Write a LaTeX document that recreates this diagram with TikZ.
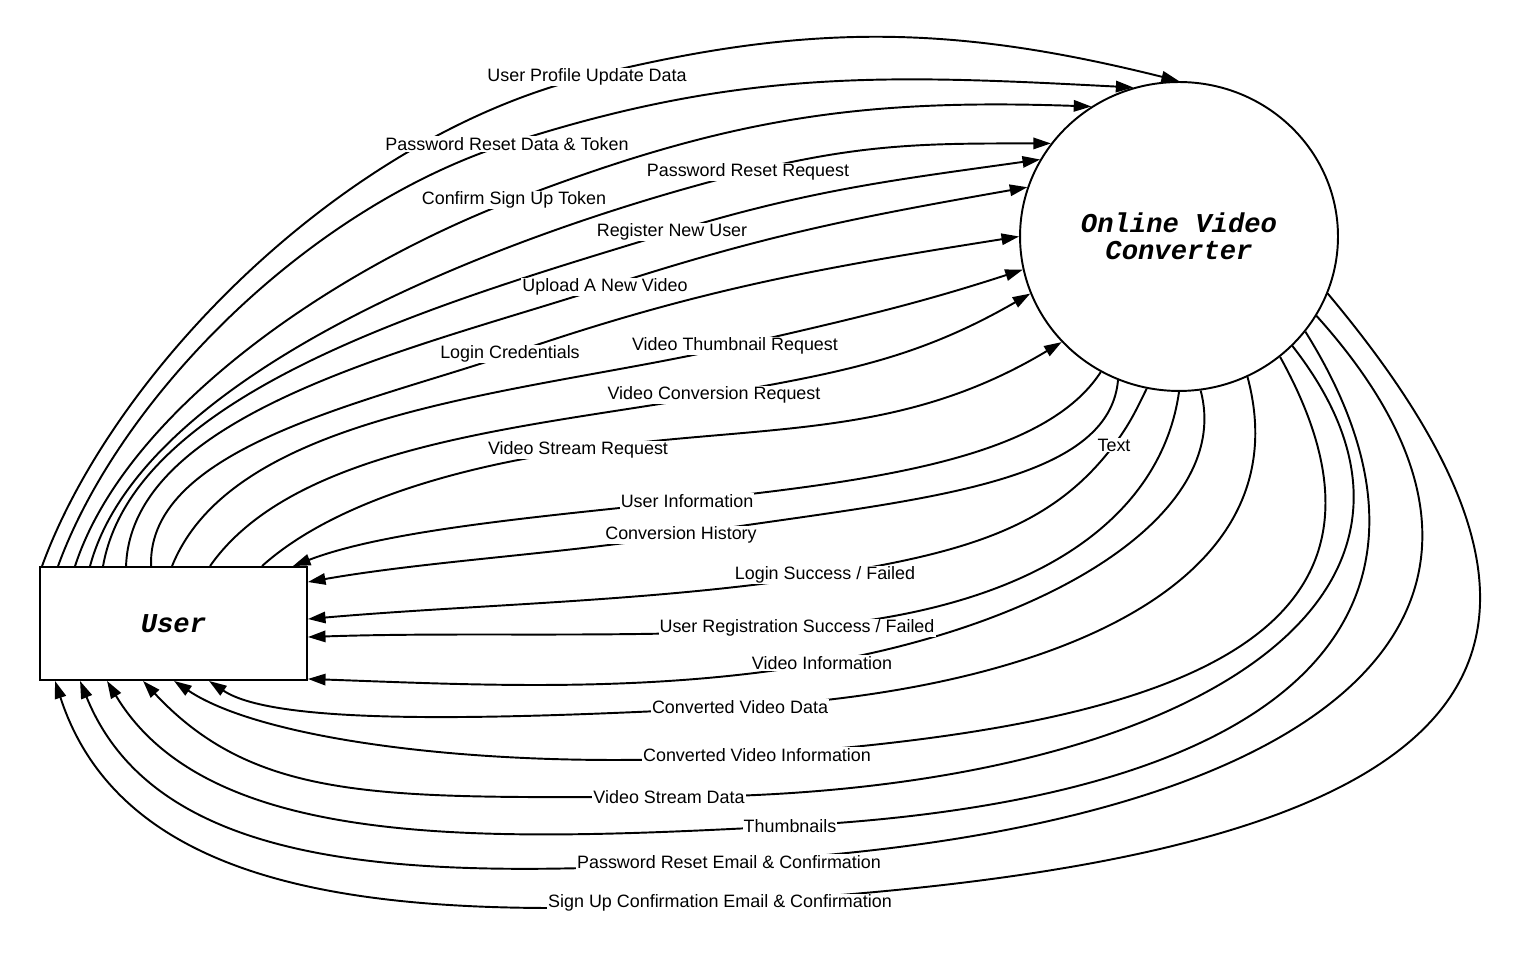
\documentclass[tikz,border=0pt]{standalone}
\usepackage{fontspec}
\setmainfont{Liberation Sans}
\newfontfamily\dfdmono{Liberation Mono}
\usetikzlibrary{shapes.geometric, arrows.meta, calc, backgrounds}

\begin{document}
\begin{tikzpicture}[
    x=0.02cm, y=0.02cm,
    font=\fontsize{10.2}{12}\selectfont,
    entity/.style={rectangle, draw, line width=1.1pt, minimum width=5.34cm, minimum height=2.26cm, font=\dfdmono\bfseries\itshape\fontsize{15.5}{15.4}\selectfont},
    process/.style={ellipse, draw, line width=1.1pt, inner sep=0pt, minimum width=6.36cm, minimum height=6.18cm, align=center, font=\dfdmono\bfseries\itshape\fontsize{15.5}{15.4}\selectfont},
    flowlabel/.style={fill=white, inner sep=0.6pt},
    flow/.style={-{Triangle[length=10pt, width=6.5pt]}, line width=1.1pt}
]
\useasboundingbox (0,0) rectangle (1530,956);

% Nodes
\node[entity] (user) at (173.5,332.5) {User};
\node[process] (conv) at (1179,719.5) {Online Video\\Converter};

% Labels: user to converter
\node[flowlabel] (lbl_profile) at (587,879) {User Profile Update Data};
\node[flowlabel] (lbl_pwdata) at (507,812) {Password Reset Data \& Token};
\node[flowlabel] (lbl_confirm) at (514,756) {Confirm Sign Up Token};
\node[flowlabel] (lbl_pwreq) at (748,784) {Password Reset Request};
\node[flowlabel] (lbl_register) at (672,724) {Register New User};
\node[flowlabel] (lbl_upload) at (605,669) {Upload A New Video};
\node[flowlabel] (lbl_login) at (510,602) {Login Credentials};
\node[flowlabel] (lbl_thumbreq) at (735,610) {Video Thumbnail Request};
\node[flowlabel] (lbl_convreq) at (714,561) {Video Conversion Request};
\node[flowlabel] (lbl_streamreq) at (578,506) {Video Stream Request};

% Labels: converter to user
\node[flowlabel] (lbl_userinfo) at (687,455) {User Information};
\node[flowlabel] (lbl_history) at (681,421) {Conversion History};
\node[flowlabel] (lbl_text) at (1114,511) {Text};
\node[flowlabel] (lbl_login_ok) at (825,381) {Login Success / Failed};
\node[flowlabel] (lbl_reg_ok) at (797,328) {User Registration Success / Failed};
\node[flowlabel] (lbl_vidinfo) at (822,293) {Video Information};
\node[flowlabel] (lbl_convdata) at (740,249) {Converted Video Data};
\node[flowlabel] (lbl_convinfo) at (757,201) {Converted Video Information};
\node[flowlabel] (lbl_streamdata) at (669,159) {Video Stream Data};
\node[flowlabel] (lbl_thumbs) at (790,130) {Thumbnails};
\node[flowlabel] (lbl_pwemail) at (729,94) {Password Reset Email \& Confirmation};
\node[flowlabel] (lbl_signup) at (720,53) {Sign Up Confirmation Email \& Confirmation};

% Arrows
\begin{scope}[on background layer]
% user -> converter
\draw[flow] ($(user.north west)+(3,0)$) .. controls +(70:205) and +(194:255) .. (lbl_profile.center) .. controls +(14:230) and +(166:230) .. (conv.90);
\draw[flow] ($(user.north west)+(19,0)$) .. controls +(70:175) and +(198:215) .. (lbl_pwdata.center) .. controls +(18:245) and +(177:245) .. (conv.107);
\draw[flow] ($(user.north west)+(36,0)$) .. controls +(72:160) and +(201:200) .. (lbl_confirm.center) .. controls +(21:230) and +(178:230) .. (conv.124);
\draw[flow] ($(user.north west)+(51,0)$) .. controls +(75:200) and +(194:250) .. (lbl_pwreq.center) .. controls +(14:120) and +(180:120) .. (conv.144);
\draw[flow] ($(user.north west)+(64,0)$) .. controls +(80:180) and +(197:230) .. (lbl_register.center) .. controls +(17:145) and +(188:145) .. (conv.151);
\draw[flow] ($(user.north west)+(87,0)$) .. controls +(88:155) and +(198:195) .. (lbl_upload.center) .. controls +(18:170) and +(190:170) .. (conv.162);
\draw[flow] ($(user.north west)+(112,0)$) .. controls +(92:120) and +(199:145) .. (lbl_login.center) .. controls +(19:200) and +(189:200) .. (conv.180);
\draw[flow] ($(user.north west)+(133,0)$) .. controls +(68:170) and +(193:210) .. (lbl_thumbreq.center) .. controls +(13:115) and +(198:115) .. (conv.192);
\draw[flow] ($(user.north west)+(171,0)$) .. controls +(55:150) and +(190:185) .. (lbl_convreq.center) .. controls +(10:130) and +(210:130) .. (conv.201);
\draw[flow] ($(user.north west)+(223,0)$) .. controls +(42:95) and +(188:120) .. (lbl_streamreq.center) .. controls +(8:190) and +(211:190) .. (conv.222);
% converter -> user
\draw[flow] (conv.240) .. controls +(237:100) and +(6:200) .. (lbl_userinfo.center) .. controls +(186:150) and +(21:100) .. ($(user.north east)+(-15,0)$);
\draw[flow] (conv.247) .. controls +(265:110) and +(9:220) .. (lbl_history.center) .. controls +(189:120) and +(10:120) .. ($(user.north east)+(0,-16)$);
\draw[flow] (conv.258) .. controls +(244:25) and +(53:25) .. (lbl_text.center) .. controls +(233:100) and +(9:150) .. (lbl_login_ok.center) .. controls +(189:170) and +(5:170) .. ($(user.north east)+(0,-53)$);
\draw[flow] (conv.270) .. controls +(262:120) and +(4:250) .. (lbl_reg_ok.center) .. controls +(184:160) and +(2:160) .. ($(user.north east)+(0,-71)$);
\draw[flow] (conv.278) .. controls +(285:120) and +(10:250) .. (lbl_vidinfo.center) .. controls +(190:180) and +(-2:160) .. ($(user.south east)+(0,2)$);
\draw[flow] (conv.296) .. controls +(285:220) and +(3:300) .. (lbl_convdata.center) .. controls +(183:250) and +(-34:80) .. ($(user.south west)+(170,0)$);
\draw[flow] (conv.310) .. controls +(299:330) and +(4:400) .. (lbl_convinfo.center) .. controls +(184:250) and +(-34:110) .. ($(user.south west)+(135,0)$);
\draw[flow] (conv.316) .. controls +(308:330) and +(0:500) .. (lbl_streamdata.center) .. controls +(180:280) and +(-47:170) .. ($(user.south west)+(104,0)$);
\draw[flow] (conv.323) .. controls +(302:300) and +(3:550) .. (lbl_thumbs.center) .. controls +(183:300) and +(-59:200) .. ($(user.south west)+(68,0)$);
\draw[flow] (conv.330) .. controls +(312:400) and +(3:600) .. (lbl_pwemail.center) .. controls +(183:280) and +(-68:220) .. ($(user.south west)+(41,0)$);
\draw[flow] (conv.339) .. controls +(310:500) and +(3:750) .. (lbl_signup.center) .. controls +(183:300) and +(-72:240) .. ($(user.south west)+(16,0)$);
\end{scope}

\end{tikzpicture}
\end{document}
